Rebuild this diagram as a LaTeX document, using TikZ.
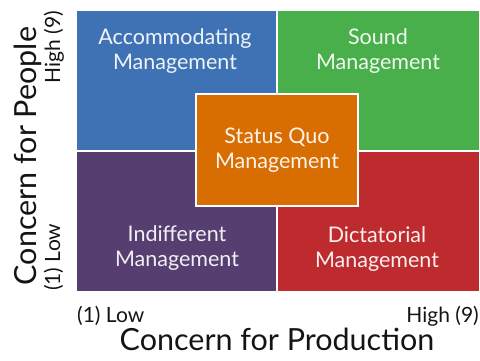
\documentclass[tikz,border=0pt]{standalone}
\usepackage{fontspec}
\setmainfont{Lato}
\definecolor{cblue}{RGB}{62,114,181}
\definecolor{cgreen}{RGB}{72,175,74}
\definecolor{cpurple}{RGB}{87,62,112}
\definecolor{cred}{RGB}{190,43,47}
\definecolor{corange}{RGB}{216,109,2}
\definecolor{axis}{RGB}{20,20,20}
\tikzset{
  boxtext/.style={inner sep=0pt, align=center, font=\fontsize{21.5}{25}\selectfont, text=white!92!#1},
  small/.style={inner sep=0pt, font=\fontsize{21}{24}\selectfont, text=axis},
  big/.style={inner sep=0pt, font=\fontsize{30.5}{34}\selectfont, text=axis},
}
\begin{document}
\begin{tikzpicture}[x=1pt,y=-1pt]
\useasboundingbox (0,0) rectangle (480,361);
% quadrants
\fill[cblue]   (77,11) rectangle (276,150);
\fill[cgreen]  (278,11) rectangle (479,150);
\fill[cpurple] (77,152) rectangle (276,291);
\fill[cred]    (278,152) rectangle (479,291);
\fill[corange, draw=white, line width=2pt] (196,94) rectangle (358,206);
% box texts
\node[boxtext=cblue]   (acc) at (175,51)  {Accommodating\\Management};
\node[boxtext=cgreen]  (snd) at (378,51)  {Sound\\Management};
\node[boxtext=corange] (sq)  at (277,150) {Status Quo\\Management};
\node[boxtext=cpurple] (ind) at (177,248) {Indifferent\\Management};
\node[boxtext=cred]    (dic) at (377,249) {Dictatorial\\Management};
% axis labels
\node[small, anchor=base west] (xlow)  at (77,322)  {(1) Low};
\node[small, anchor=base east] (xhigh) at (479,322) {High (9)};
\node[big, anchor=base] (xlab) at (277,350) {Concern for Production};
\node[small, rotate=90, anchor=base east] (yhigh) at (60,11)  {High (9)};
\node[small, rotate=90, anchor=base west] (ylow)  at (60,291) {(1) Low};
\node[big, rotate=90, anchor=base] (ylab) at (37,156) {Concern for People};
\end{tikzpicture}
\end{document}
